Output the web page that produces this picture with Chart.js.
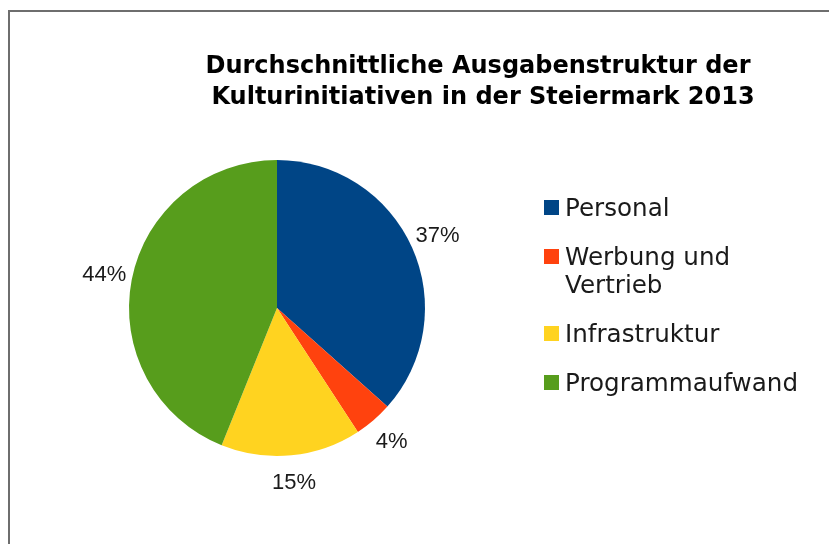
<!DOCTYPE html>
<html lang="de">
<head>
    <meta charset="UTF-8">
    <title>Durchschnittliche Ausgabenstruktur der Kulturinitiativen in der Steiermark 2013</title>
    <script src="https://cdn.jsdelivr.net/npm/chart.js"></script>
    <style>
        html, body { margin: 0; padding: 0; background: #fff; }
        #wrap { width: 829px; height: 544px; }
    </style>
</head>
<body>
    <div id="wrap"><canvas id="pieChart" width="829" height="544"></canvas></div>
    <script>
        // Data
        const titleLines = ['Durchschnittliche Ausgabenstruktur der', 'Kulturinitiativen in der Steiermark 2013'];
        const categories = ['Personal', 'Werbung und Vertrieb', 'Infrastruktur', 'Programmaufwand'];
        const legendLines = [['Personal'], ['Werbung und', 'Vertrieb'], ['Infrastruktur'], ['Programmaufwand']];
        const shares = [36.6, 4.2, 15.3, 43.9];
        const colors = ['#004586', '#ff420e', '#ffd320', '#579d1c'];

        // border, title, percentages and legend drawn by hand
        const decorations = {
            id: 'decorations',
            afterDraw(chart) {
                const ctx = chart.ctx;
                ctx.save();

                // frame (runs off the right and bottom edges)
                ctx.strokeStyle = '#6e6e6e';
                ctx.lineWidth = 2;
                ctx.strokeRect(9, 11, 1000, 1000);

                // title
                ctx.fillStyle = '#000';
                ctx.font = 'bold 24px "DejaVu Sans"';
                ctx.textAlign = 'center';
                ctx.textBaseline = 'alphabetic';
                ctx.fillText(titleLines[0], 478, 73);
                ctx.fillText(titleLines[1], 483, 104);

                // percentage labels outside the slices
                const total = shares.reduce((a, b) => a + b, 0);
                const meta = chart.getDatasetMeta(0);
                ctx.font = '22px "Liberation Sans", Arial, sans-serif';
                ctx.fillStyle = '#1a1a1a';
                ctx.textBaseline = 'middle';
                meta.data.forEach((arc, i) => {
                    const p = arc.getProps(['x', 'y', 'startAngle', 'endAngle', 'outerRadius'], true);
                    const mid = (p.startAngle + p.endAngle) / 2;
                    const r = p.outerRadius + 28;
                    const txt = Math.round(shares[i] / total * 100) + '%';
                    ctx.fillText(txt, p.x + Math.cos(mid) * r, p.y + Math.sin(mid) * r);
                });

                // legend
                ctx.font = '24.6px "DejaVu Sans"';
                ctx.textAlign = 'left';
                ctx.textBaseline = 'alphabetic';
                let y = 216;
                legendLines.forEach((lines, i) => {
                    ctx.fillStyle = colors[i];
                    ctx.fillRect(544, y - 16, 15, 15);
                    ctx.fillStyle = '#1a1a1a';
                    lines.forEach((ln, k) => ctx.fillText(ln, 565, y + k * 28));
                    y += (lines.length - 1) * 28 + 49;
                });

                ctx.restore();
            }
        };

        new Chart(document.getElementById('pieChart'), {
            type: 'pie',
            data: {
                labels: categories,
                datasets: [{
                    data: shares,
                    backgroundColor: colors,
                    borderWidth: 0
                }]
            },
            options: {
                responsive: false,
                animation: false,
                layout: { padding: { left: 129, right: 404, top: 160, bottom: 88 } },
                plugins: {
                    legend: { display: false },
                    tooltip: { enabled: false },
                    title: { display: false }
                }
            },
            plugins: [decorations]
        });
    </script>
</body>
</html>
